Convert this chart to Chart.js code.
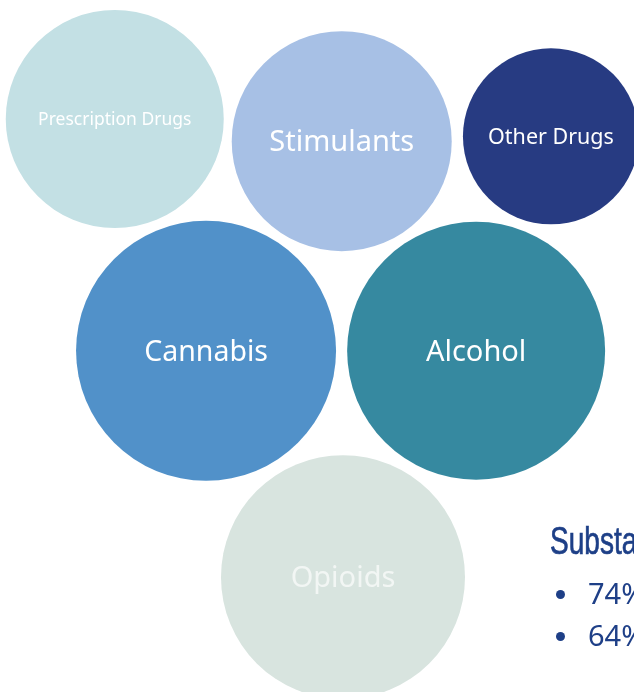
<!DOCTYPE html>
<html>
<head>
<meta charset="utf-8">
<title>Substance bubbles</title>
<script src="https://cdn.jsdelivr.net/npm/chart.js@4.4.1/dist/chart.umd.min.js"></script>
<style>
html, body { margin: 0; padding: 0; background: #ffffff; overflow: hidden; }
.page { position: relative; width: 634px; height: 692px; overflow: hidden; }
.bubble-chart-container { position: absolute; left: 0; top: 0; width: 634px; height: 692px; }
.side-title {
    position: absolute; left: 550px; top: 521px; white-space: nowrap;
    font-family: "Liberation Sans", sans-serif;
    font-size: 39px; line-height: 39px; color: #1d3f87;
    -webkit-text-stroke: 0.7px #1d3f87;
    transform: scaleX(0.72); transform-origin: left top;
}
.side-bullet {
    position: absolute; left: 552px; padding-left: 36px; white-space: nowrap;
    font-family: "Noto Sans", sans-serif; font-size: 29px; line-height: 29px; color: #1e3f87;
}
.side-bullet .dot {
    position: absolute; left: 4px; top: 12px; width: 9px; height: 9px;
    border-radius: 50%; background: #1e3f87;
}
</style>
</head>
<body>
<div class="page">
    <div class="bubble-chart-container"><canvas id="bubble-canvas"></canvas></div>
    <div class="side-title">Substance</div>
    <div class="side-bullet" style="top: 578px"><span class="dot"></span>74%</div>
    <div class="side-bullet" style="top: 620px"><span class="dot"></span>64%</div>
</div>
<script>
// bubble data (x/y on a 0-100 grid, r in px as Chart.js expects)
const substanceLabels = ['Prescription Drugs', 'Stimulants', 'Other Drugs', 'Cannabis', 'Alcohol', 'Opioids']
const bubbleX = [18.1, 53.9, 86.9, 32.5, 75.1, 54.1]
const bubbleY = [82.8, 79.6, 80.3, 49.3, 49.3, 16.6]
const bubbleRadius = [109, 110, 88, 130, 129, 122]

// styles
const bubbleColors = ['#c3e0e4', '#a7c0e5', '#273b82', '#5191c9', '#3689a0', '#d8e4df']
const labelColors = ['#ffffff', '#ffffff', '#ffffff', '#ffffff', '#ffffff', '#f2f6f4']
const labelFontSize = [17.5, 29, 21.5, 28.5, 29, 29]

const bubbleLabelPlugin = {
    id: 'bubbleLabelPlugin',
    afterDatasetsDraw(chart) {
        const ctx = chart.ctx
        const meta = chart.getDatasetMeta(0)
        meta.data.forEach((el, i) => {
            const size = labelFontSize[i]
            ctx.save()
            ctx.font = size + 'px "Noto Sans"'
            ctx.fillStyle = labelColors[i]
            ctx.textAlign = 'center'
            ctx.textBaseline = 'middle'
            // nudge down a touch so the glyphs sit centred
            ctx.fillText(substanceLabels[i], el.x, el.y + size * 0.06)
            ctx.restore()
        })
    }
}

const points = substanceLabels.map((label, i) => ({ x: bubbleX[i], y: bubbleY[i], r: bubbleRadius[i] }))

const chart = new Chart(document.getElementById('bubble-canvas').getContext('2d'), {
    type: 'bubble',
    plugins: [bubbleLabelPlugin],
    data: {
        labels: substanceLabels,
        datasets: [{
            data: points,
            backgroundColor: bubbleColors,
            borderWidth: 0,
            hoverRadius: 0,
            clip: false
        }]
    },
    options: {
        animation: false,
        responsive: true,
        maintainAspectRatio: false,
        events: [],
        layout: { padding: 0, autoPadding: false },
        plugins: {
            legend: { display: false },
            tooltip: { enabled: false }
        },
        scales: {
            x: { type: 'linear', min: 0, max: 100, display: false },
            y: { type: 'linear', min: 0, max: 100, display: false }
        }
    }
})
</script>
</body>
</html>
